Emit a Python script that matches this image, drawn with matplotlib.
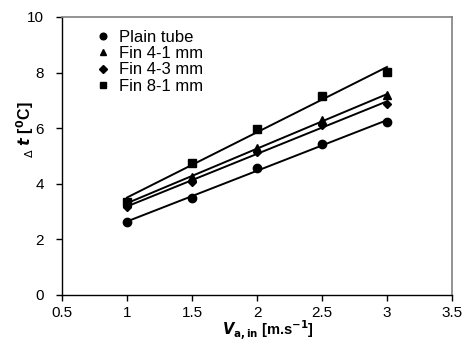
import numpy as np
import matplotlib
matplotlib.use("Agg")
import matplotlib.pyplot as plt

plt.rcParams['font.family'] = ['Liberation Sans', 'DejaVu Sans']

velocity = [1.0, 1.5, 2.0, 2.5, 3.0]
plain_tube = [2.63, 3.50, 4.56, 5.43, 6.22]
fin_4_1 = [3.30, 4.26, 5.28, 6.29, 7.19]
fin_4_3 = [3.18, 4.05, 5.16, 6.12, 6.87]
fin_8_1 = [3.36, 4.76, 5.96, 7.16, 8.03]
series_names = ["Plain tube", "Fin 4-1 mm", "Fin 4-3 mm", "Fin 8-1 mm"]
xticks = [0.5, 1, 1.5, 2, 2.5, 3, 3.5]
yticks = [0, 2, 4, 6, 8, 10]

fig = plt.figure(figsize=(4.62, 3.42), dpi=100)
ax = fig.add_axes([62/462, 1-295/342, (452-62)/462, (295-17)/342])

markers = ['o', '^', 'D', 's']
sizes = [6, 6, 4.5, 5.5]
x = np.array(velocity)
for name, vals, m, s in zip(series_names, [plain_tube, fin_4_1, fin_4_3, fin_8_1], markers, sizes):
    ax.plot(x, vals, linestyle='none', marker=m, markersize=s, color='black', label=name)
    k, b = np.polyfit(x, vals, 1)
    ax.plot([x[0], x[-1]], [k*x[0]+b, k*x[-1]+b], color='black', lw=1.4)

ax.set_xlim(0.5, 3.5)
ax.set_ylim(0, 10)
ax.set_xticks(xticks)
ax.set_xticklabels([f"{t:g}" for t in xticks])
ax.set_yticks(yticks)
ax.tick_params(direction='out', length=4, width=1, labelsize=11, colors='black')
ax.tick_params(axis='x', pad=4)
ax.tick_params(axis='y', pad=9)
for side in ['top', 'right']:
    ax.spines[side].set_color('#808080')
    ax.spines[side].set_linewidth(1.2)
for side in ['left', 'bottom']:
    ax.spines[side].set_linewidth(1.0)

ax.set_xlabel(r"$\boldsymbol{V}_{\mathbf{a,in}}$ [m.s$^{\mathbf{-1}}$]", fontsize=10.5,
              fontweight='bold', va='center', ha='center')
ax.xaxis.set_label_coords(0.528, -0.127)
ax.set_ylabel(r"$_{\Delta}$ $\boldsymbol{t}$ [$^{\mathbf{0}}$C]", fontsize=11.5,
              fontweight='bold', va='center', ha='center')
ax.yaxis.set_label_coords(-0.095, 0.594)

leg = ax.legend(loc='upper left', bbox_to_anchor=(0.06, 0.99), frameon=False, fontsize=12,
                handlelength=0.9, handletextpad=0.5, labelspacing=0.08, borderaxespad=0.2,
                markerscale=0.8)

fig.savefig("out.png", dpi=100)
